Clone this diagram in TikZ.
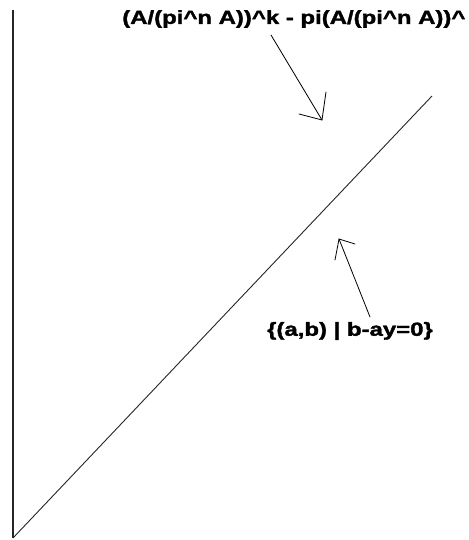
\documentclass[tikz,border=0pt]{standalone}
\usepackage{fontspec}
\setmainfont[BoldFeatures={FakeBold=1.5}]{Liberation Sans}
\begin{document}
\begin{tikzpicture}[x=1pt,y=-1pt,
  lbl/.style={font=\bfseries\fontsize{19}{19}\selectfont, inner sep=0pt, xscale=1.26},
  ln/.style={line width=1.1pt, black!85},
  arr/.style={line width=0.8pt, line cap=round, line join=round}]
\useasboundingbox (0,0) rectangle (468,540);
\clip (0,0) rectangle (468,540);
\fill[white] (0,0) rectangle (468,540);
\coordinate (top) at (13,10);
\coordinate (o) at (13,538);
\coordinate (d) at (432,96);
\draw[ln] (top) -- (o);
\draw[ln, line width=0.9pt] (o) -- (d);
\node[lbl, anchor=west] (t1) at (122,19) {(A/(pi\^{}n A))\^{}k - pi(A/(pi\^{}n A))\^{}};
\node[lbl] (t2) at (350,331) {\{(a,b) | b-ay=0\}};
\coordinate (a1s) at (271,35);
\coordinate (a1e) at (322,120);
\coordinate (a1b) at (326,92);
\coordinate (a1c) at (299,114);
\coordinate (a2s) at (370,317);
\coordinate (a2e) at (339,239);
\coordinate (a2b) at (355,244);
\coordinate (a2c) at (335,260);
\draw[arr] (a1s) -- (a1e);
\draw[arr] (a1b) -- (a1e) -- (a1c);
\draw[arr] (a2s) -- (a2e);
\draw[arr] (a2b) -- (a2e) -- (a2c);
\end{tikzpicture}
\end{document}
